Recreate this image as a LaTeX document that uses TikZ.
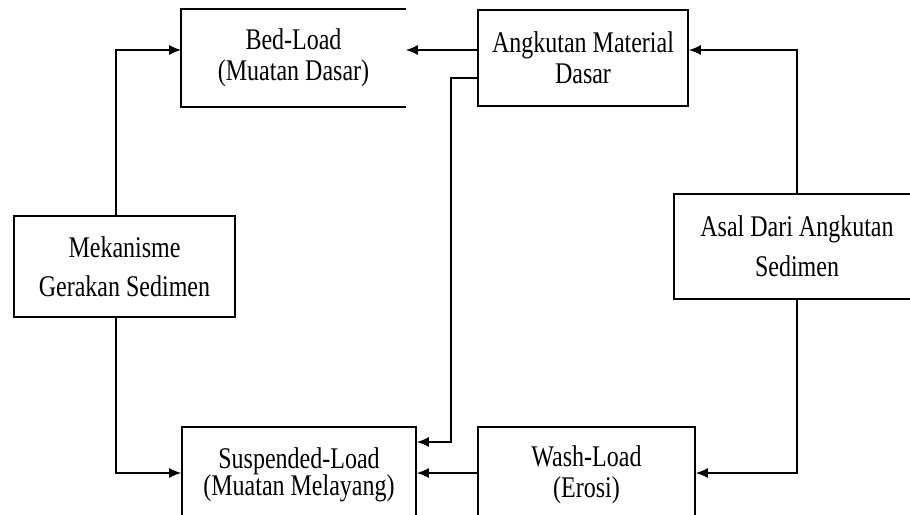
\documentclass[tikz,border=0pt]{standalone}
\usepackage{fontspec}
\setmainfont{Liberation Serif}[FakeStretch=0.8]
\usetikzlibrary{arrows.meta}

\begin{document}
\begin{tikzpicture}[x=0.5pt,y=-0.5pt,
    box/.style={draw,line width=0.8pt,align=center,inner sep=0pt,font=\fontsize{15}{15.5}\selectfont},
    arr/.style={line width=0.8pt,-{Latex[length=6pt,width=5pt]}}]
        \useasboundingbox (0,0) rectangle (910,514);
        \clip (0,0) rectangle (910,514);
        \fill[white] (0,0) rectangle (910,514);

        \node[box,draw=none,minimum width=111.5pt,minimum height=48pt] (bed) at (293.5,58) {Bed-Load\\(Muatan Dasar)};
        \draw[line width=0.8pt] (bed.north east) -- (bed.north west) -- (bed.south west) -- (bed.south east);
        \node[box,minimum width=105pt,minimum height=48pt] (ang) at (583,58) {Angkutan Material\\Dasar};

        \node[box,minimum width=110.5pt,minimum height=50.5pt] (mek) at (124.5,266.5) {Mekanisme\\[4pt]Gerakan Sedimen};
        \node[box,minimum width=123pt,minimum height=52.5pt] (asal) at (797,246.5) {Asal Dari Angkutan\\[4.5pt]Sedimen};

        \node[box,minimum width=117pt,minimum height=48pt] (sus) at (299,475) {Suspended-Load\\[-2pt](Muatan Melayang)};
        \node[box,minimum width=108.5pt,minimum height=48pt] (wash) at (586.5,475) {Wash-Load\\(Erosi)};

        \draw[arr] ([xshift=-4.25pt]mek.north) |- ([yshift=4pt]bed.west);
        \draw[arr] ([xshift=-4.25pt]mek.south) |- ([yshift=1pt]sus.west);
        \draw[arr] ([yshift=4pt]ang.west) -- ([yshift=4pt]bed.east);
        \draw[arr] ([yshift=-10pt]ang.west) -- ++(-13pt,0pt) |- ([yshift=16.5pt]sus.east);
        \draw[arr] (asal.north) |- ([yshift=4pt]ang.east);
        \draw[arr] (asal.south) |- ([yshift=1pt]wash.east);
        \draw[arr] ([yshift=1pt]wash.west) -- ([yshift=1pt]sus.east);
    \end{tikzpicture}
\end{document}
